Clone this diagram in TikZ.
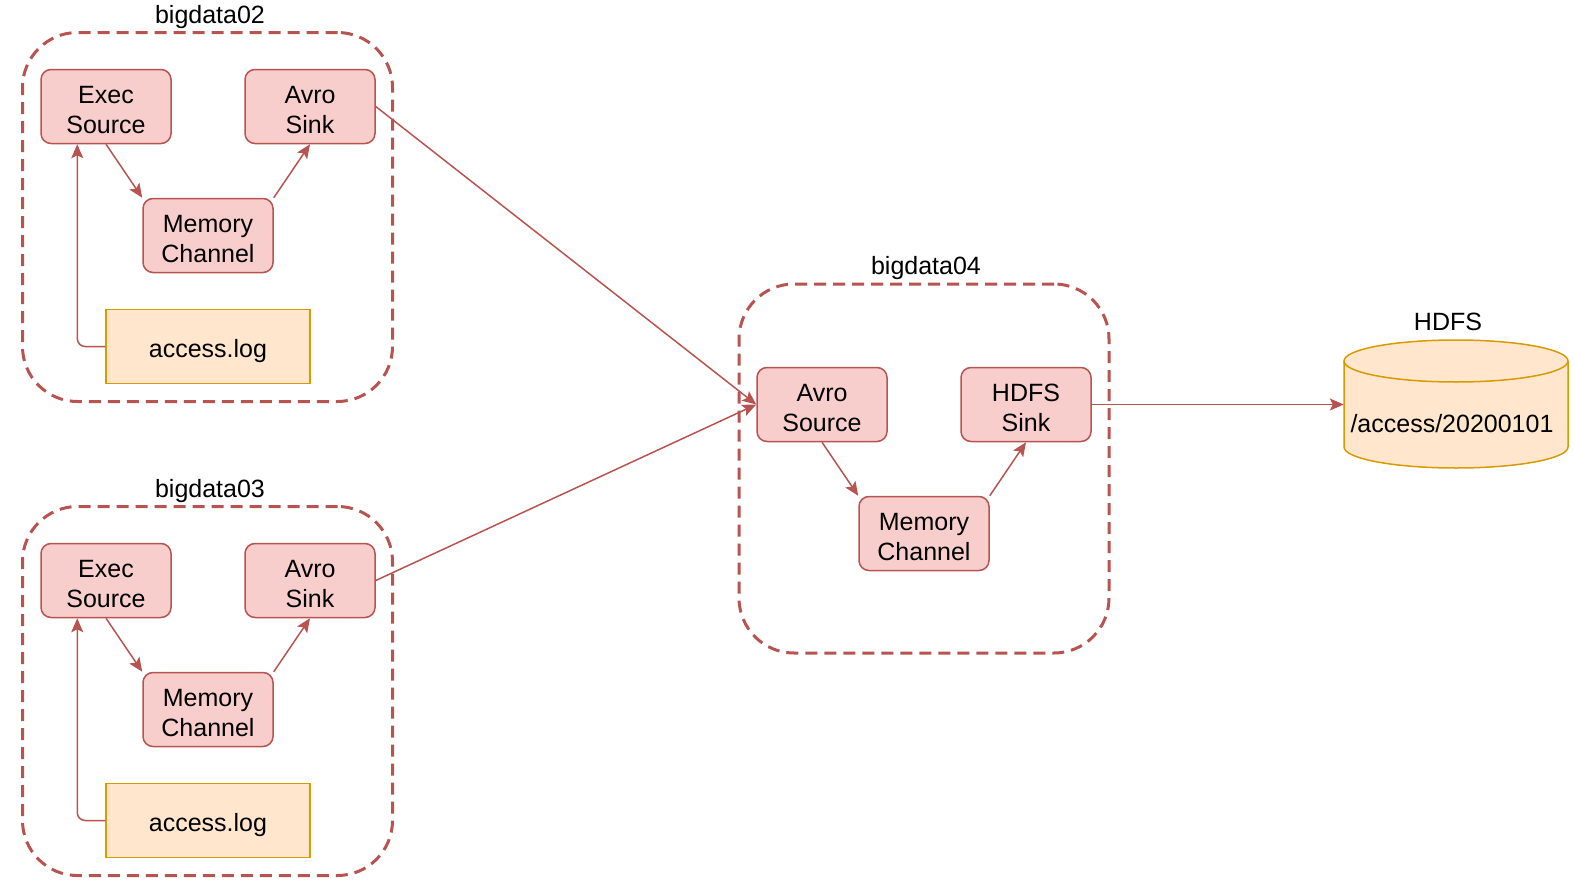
\documentclass[tikz,border=0pt]{standalone}
\usepackage{fontspec}
\setmainfont{Liberation Sans}
\usetikzlibrary{arrows.meta}
\definecolor{pinkfill}{HTML}{F8CECC}
\definecolor{pinkdraw}{HTML}{B85450}
\definecolor{orfill}{HTML}{FFE6CC}
\definecolor{ordraw}{HTML}{D79B00}
\newcommand{\twolines}[2]{\rule{0pt}{24pt}#1\\#2}
\begin{document}
\begin{tikzpicture}[x=1pt,y=-1pt,
  comp/.style={draw=pinkdraw, fill=pinkfill, line width=1.5pt, rounded corners=10pt,
    minimum width=130pt, minimum height=74pt, inner sep=0pt, align=center,
    font=\fontsize{25}{30}\selectfont},
  logbox/.style={draw=ordraw, fill=orfill, line width=1.5pt,
    minimum width=204pt, minimum height=74pt, inner sep=0pt,
    font=\fontsize{25}{30}\selectfont, execute at begin node={\rule{0pt}{28pt}}},
  agent/.style={draw=pinkdraw, line width=3pt, dash pattern=on 12pt off 7pt,
    rounded corners=55pt, minimum width=370pt, minimum height=369pt, inner sep=0pt},
  lbl/.style={font=\fontsize{25}{30}\selectfont, inner sep=0pt},
  conn/.style={draw=pinkdraw, line width=1.5pt, -{Stealth[length=14pt,width=12pt,inset=3pt]}}
]
\useasboundingbox (0,0) rectangle (1575,886);

% bigdata02
\node[agent] (g2) at (207.5,217) {};
\node[lbl] (t2) at (210,17) {bigdata02};
\node[comp] (ex2) at (106,106.5) {\twolines{Exec}{Source}};
\node[comp] (av2) at (310,106.5) {\twolines{Avro}{Sink}};
\node[comp] (mem2) at (208,235.5) {\twolines{Memory}{Channel}};
\node[logbox] (log2) at (208,346.5) {access.log};
\draw[conn] (ex2.south) -- (mem2.north west);
\draw[conn] (mem2.north east) -- (av2.south);
\draw[conn, rounded corners=8pt] (log2.west) -| ([xshift=37pt]ex2.south west);

% bigdata03
\begin{scope}[shift={(0,474)}]
\node[agent] (g3) at (207.5,217) {};
\node[lbl] (t3) at (210,17) {bigdata03};
\node[comp] (ex3) at (106,106.5) {\twolines{Exec}{Source}};
\node[comp] (av3) at (310,106.5) {\twolines{Avro}{Sink}};
\node[comp] (mem3) at (208,235.5) {\twolines{Memory}{Channel}};
\node[logbox] (log3) at (208,346.5) {access.log};
\end{scope}
\draw[conn] (ex3.south) -- (mem3.north west);
\draw[conn] (mem3.north east) -- (av3.south);
\draw[conn, rounded corners=8pt] (log3.west) -| ([xshift=37pt]ex3.south west);

% bigdata04
\node[agent] (g4) at (924,468.5) {};
\node[lbl] (t4) at (926,268) {bigdata04};
\node[comp] (as4) at (822,404.5) {\twolines{Avro}{Source}};
\node[comp] (hs4) at (1026,404.5) {\twolines{HDFS}{Sink}};
\node[comp] (mem4) at (924,533.5) {\twolines{Memory}{Channel}};
\draw[conn] (as4.south) -- (mem4.north west);
\draw[conn] (mem4.north east) -- (hs4.south);

% HDFS cylinder
\node[inner sep=0pt, minimum width=224pt, minimum height=128pt] (hdfs) at (1456,404.5) {};
\path[draw=ordraw, fill=orfill, line width=1.5pt]
  (1344,361) -- (1344,447) arc[start angle=180, end angle=0, x radius=112, y radius=21]
  -- (1568,361) arc[start angle=0, end angle=-180, x radius=112, y radius=21] -- cycle;
\draw[ordraw, line width=1.5pt] (1344,361) arc[start angle=180, end angle=0, x radius=112, y radius=21];
\node[lbl] (hdfstext) at (1452,424) {/access/20200101};
\node[lbl] (thdfs) at (1448,322) {HDFS};

% cross-agent connectors
\draw[conn] (av2.east) -- (as4.west);
\draw[conn] (av3.east) -- (as4.west);
\draw[conn] (hs4.east) -- (hdfs.west);
\end{tikzpicture}
\end{document}
